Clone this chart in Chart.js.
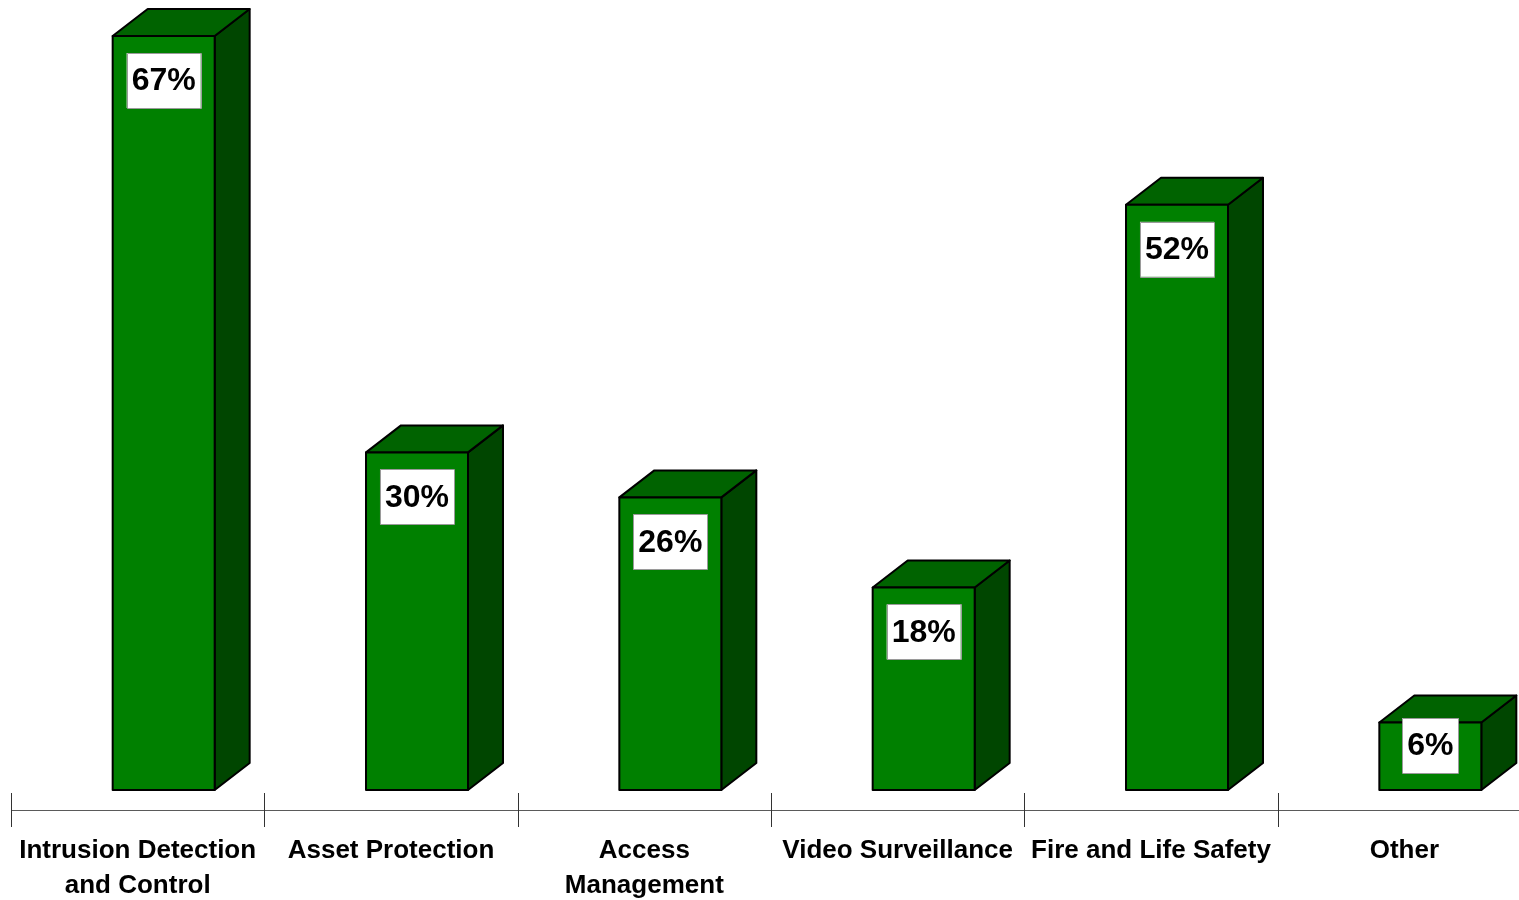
<!DOCTYPE html>
<html>
<head>
<meta charset="utf-8">
<title>Security system priorities</title>
<script src="https://cdn.jsdelivr.net/npm/chart.js@4.4.1/dist/chart.umd.min.js"></script>
<style>
  html, body { margin: 0; padding: 0; background: #ffffff; overflow: hidden; }
  #wrap { position: relative; width: 1545px; height: 900px; }
</style>
</head>
<body>
<div id="wrap"><canvas id="chart"></canvas></div>
<script>
// Survey categories (multi-line labels as arrays)
const categories = [
  ['Intrusion Detection', 'and Control'],
  'Asset Protection',
  ['Access', 'Management'],
  'Video Surveillance',
  'Fire and Life Safety',
  'Other'
];
// Share of respondents, percent
const shares = [67, 30, 26, 18, 52, 6];
const valueLabels = shares.map(v => v + '%');

const FONT = '"Liberation Sans", Arial, Helvetica, sans-serif';

// Draws each bar as a box with top and side faces, the value badge, and the category axis
const boxBars = {
  id: 'boxBars',
  afterDatasetsDraw(chart) {
    const ctx = chart.ctx;
    const area = chart.chartArea;
    const xs = chart.scales.x;
    const meta = chart.getDatasetMeta(0);
    const shift = 26, dx = 35, dy = 27;

    // axis line with boundary ticks
    const axisY = area.bottom + 20;
    ctx.save();
    ctx.strokeStyle = '#5a5a5a';
    ctx.lineWidth = 1;
    ctx.beginPath();
    ctx.moveTo(xs.left, axisY + 0.5);
    ctx.lineTo(xs.right, axisY + 0.5);
    ctx.stroke();
    ctx.strokeStyle = '#333333';
    const n = categories.length;
    for (let i = 0; i < n; i++) {
      const bx = Math.round(xs.left + (xs.right - xs.left) * i / n) + 0.5;
      ctx.beginPath();
      ctx.moveTo(bx, axisY - 17);
      ctx.lineTo(bx, axisY + 17);
      ctx.stroke();
    }
    ctx.restore();

    meta.data.forEach((el, i) => {
      const w = el.width;
      const l = el.x - w / 2 + shift;
      const r = l + w;
      const t = el.y;
      const b = el.base;

      ctx.save();
      ctx.lineJoin = 'round';
      ctx.lineWidth = 2;
      ctx.strokeStyle = '#000000';

      // side face
      ctx.beginPath();
      ctx.moveTo(r, t);
      ctx.lineTo(r + dx, t - dy);
      ctx.lineTo(r + dx, b - dy);
      ctx.lineTo(r, b);
      ctx.closePath();
      ctx.fillStyle = '#004600';
      ctx.fill();
      ctx.stroke();

      // top face
      ctx.beginPath();
      ctx.moveTo(l, t);
      ctx.lineTo(l + dx, t - dy);
      ctx.lineTo(r + dx, t - dy);
      ctx.lineTo(r, t);
      ctx.closePath();
      ctx.fillStyle = '#006300';
      ctx.fill();
      ctx.stroke();

      // front face
      ctx.beginPath();
      ctx.rect(l, t, w, b - t);
      ctx.fillStyle = '#008000';
      ctx.fill();
      ctx.stroke();

      // value badge
      const text = valueLabels[i];
      ctx.font = 'bold 32px ' + FONT;
      const tw = ctx.measureText(text).width;
      const bw = tw + 10, bh = 55;
      const cx = (l + r) / 2;
      const cy = Math.min(t + 44.5, b - 44.5);
      ctx.fillStyle = '#ffffff';
      ctx.fillRect(cx - bw / 2, cy - bh / 2, bw, bh);
      ctx.lineWidth = 1;
      ctx.strokeStyle = '#9a9a9a';
      ctx.strokeRect(Math.round(cx - bw / 2) + 0.5, Math.round(cy - bh / 2) + 0.5, Math.round(bw), bh);
      ctx.fillStyle = '#000000';
      ctx.textAlign = 'center';
      ctx.textBaseline = 'middle';
      ctx.fillText(text, cx, cy + 1);
      ctx.restore();
    });
  }
};

new Chart(document.getElementById('chart'), {
  type: 'bar',
  data: {
    labels: categories,
    datasets: [{
      data: shares,
      backgroundColor: 'rgba(0,0,0,0)',
      borderWidth: 0,
      categoryPercentage: 1,
      barPercentage: 0.4026
    }]
  },
  options: {
    responsive: true,
    maintainAspectRatio: false,
    animation: false,
    devicePixelRatio: 1,
    layout: { padding: { left: 11, right: 14, top: 36, bottom: 0 } },
    plugins: {
      legend: { display: false },
      tooltip: { enabled: false }
    },
    scales: {
      x: {
        grid: { display: false, drawTicks: false },
        border: { display: false },
        ticks: {
          color: '#000000',
          padding: 43,
          maxRotation: 0,
          autoSkip: false,
          font: { family: FONT, size: 26, weight: 'bold', lineHeight: 1.346 }
        },
        afterFit(scale) {
          scale.height = 110;
          scale.paddingLeft = 0;
          scale.paddingRight = 0;
        }
      },
      y: {
        display: false,
        min: 0,
        max: 67
      }
    }
  },
  plugins: [boxBars]
});
</script>
</body>
</html>
